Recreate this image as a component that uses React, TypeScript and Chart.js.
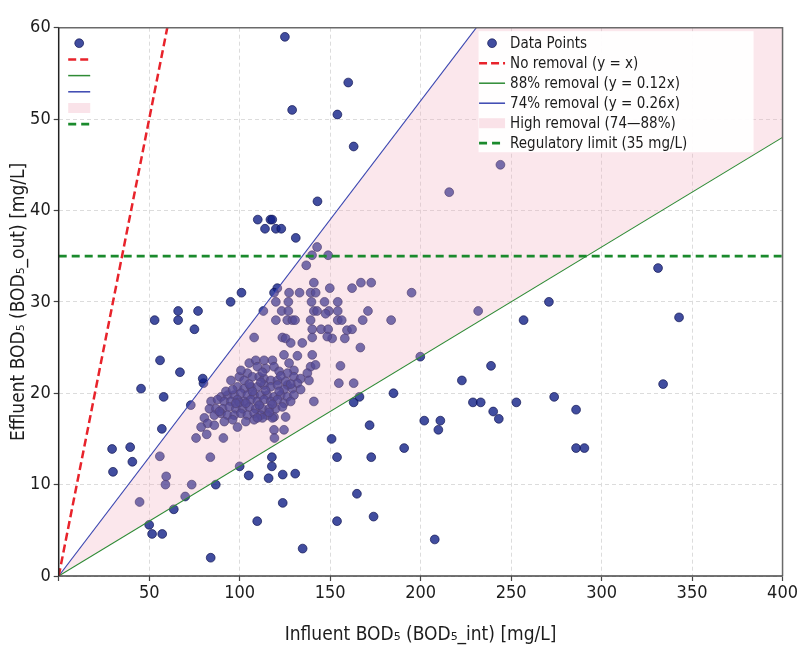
import { useEffect, useRef } from 'react';
import { Chart, registerables } from 'chart.js';

Chart.register(...registerables);

// influent / effluent BOD5 pairs
const influent = [
  125.0, 160.0, 129.0, 154.0, 163.0, 143.0, 110.0, 117.0, 118.0, 114.0, 120.0, 123.0, 131.0,
  101.0, 95.0, 66.0, 77.0, 53.0, 66.0, 75.0, 56.0, 67.0, 80.0, 45.5, 58.0, 57.0, 29.5, 39.5,
  40.7, 30.0, 50.0, 51.6, 57.2, 84.0, 63.6, 86.8, 100.0, 105.0, 116.0, 117.8, 117.8, 123.8,
  130.7, 123.8, 109.7, 134.8, 153.8, 164.8, 174.0, 172.7, 171.8, 153.8, 150.8, 163.0, 166.2,
  185.0, 199.8, 238.9, 222.8, 228.9, 233.2, 252.9, 273.8, 240.1, 243.2, 202.0, 210.9, 209.8,
  190.9, 285.9, 285.9, 290.5, 207.8, 334.0, 342.8, 331.2, 256.9, 270.9, 231.8, 244.1, 215.8,
  195.0, 79.6, 120.8,
  142.8, 140.0, 148.9, 136.8, 141.0, 167.0, 172.7, 162.1, 149.8, 119.0, 127.3, 133.1, 139.2,
  142.0, 120.0, 126.9, 139.7, 146.9, 154.2, 113.1, 123.2, 126.9, 141.0, 142.8, 149.3, 154.2,
  170.9, 120.0, 126.3, 129.1, 130.6, 139.2, 147.5, 154.2, 156.4, 168.0, 183.7, 140.1, 145.0,
  148.9, 159.3, 162.1, 158.1, 151.1, 166.7, 155.7, 154.8, 163.0,
  108.0, 123.6, 125.4, 128.2, 134.6, 140.1, 148.4, 124.5, 131.9, 140.1, 139.2, 141.9, 127.3,
  130.0, 105.3, 108.9, 113.5, 118.1, 104.3, 109.8, 114.4, 119.0, 121.8, 126.4, 130.0, 133.7,
  137.4, 138.3, 131.9, 126.4, 95.2, 99.8, 102.5, 107.1, 110.8, 113.5, 117.2, 120.9, 98.8,
  102.5, 106.2, 109.8, 113.5, 117.2, 120.9, 124.5, 129.1, 133.7, 89.7, 93.3, 97.0, 100.7,
  104.3, 108.0, 111.7, 115.3, 119.0, 122.7, 126.4, 130.0, 84.2, 87.8, 91.5, 95.2, 98.8, 102.5,
  106.2, 109.8, 113.5, 117.2, 120.9, 124.5, 128.2, 83.3, 86.9, 90.6, 94.3, 97.9, 101.6, 105.3,
  108.9, 112.6, 116.3, 119.9, 123.6, 86.0, 89.7, 93.3, 97.0, 100.7, 104.3, 108.0, 111.7, 115.3,
  119.0, 80.5, 82.3, 86.0, 91.5, 96.1, 98.8, 103.4, 108.0, 112.6, 118.1, 125.4, 78.7, 119.0,
  124.5, 141.0,
  92.4, 96.1, 99.8, 103.4, 107.1, 110.8, 114.4, 118.1, 121.8, 125.4, 111.7, 105.3, 97.9,
  116.3, 109.8, 122.7, 128.2, 100.7, 112.6, 88.8,
  44.7, 59.0, 59.4, 55.9, 73.5, 69.9, 83.8, 73.0, 75.9, 81.8, 91.0, 119.2,
];
const effluent = [
  59.0, 54.0, 51.0, 50.5, 47.0, 41.0, 39.0, 39.0, 39.0, 38.0, 38.0, 38.0, 37.0,
  31.0, 30.0, 29.0, 29.0, 28.0, 28.0, 27.0, 23.6, 22.3, 21.1, 20.5, 19.6, 16.1, 13.9, 14.1,
  12.5, 11.4, 5.6, 4.6, 4.6, 2.0, 7.3, 10.0, 12.0, 11.0, 10.7, 12.0, 13.0, 11.1,
  11.2, 8.0, 6.0, 3.0, 6.0, 9.0, 6.5, 13.0, 16.5, 13.0, 15.0, 19.0, 19.6,
  20.0, 24.0, 23.0, 21.4, 19.0, 19.0, 19.0, 19.6, 18.0, 17.2, 17.0, 17.0, 16.0,
  14.0, 18.2, 14.0, 14.0, 4.0, 21.0, 28.3, 33.7, 28.0, 30.0, 29.0, 45.0, 42.0,
  31.0, 21.6, 31.5,
  36.0, 35.1, 35.1, 34.0, 32.1, 32.1, 32.1, 31.5, 31.5, 31.0, 31.0, 31.0, 31.0,
  31.0, 30.0, 30.0, 30.0, 30.0, 30.0, 29.0, 29.0, 29.0, 29.0, 29.0, 29.0, 29.0,
  29.0, 28.0, 28.0, 28.0, 28.0, 28.0, 28.7, 28.0, 28.0, 28.0, 28.0, 27.0, 27.0,
  27.0, 26.9, 27.0, 26.0, 26.0, 25.0, 23.0, 21.1, 21.1,
  26.1, 26.1, 26.0, 25.5, 25.5, 26.1, 26.2, 24.2, 24.1, 24.2, 22.9, 23.1, 23.3,
  22.5, 23.3, 23.6, 23.6, 23.6, 22.2, 22.9, 22.7, 22.9, 22.4, 22.2, 21.8, 21.6,
  22.2, 21.4, 21.1, 20.9, 21.4, 21.8, 21.4, 21.8, 21.8, 21.6, 21.4, 21.4, 20.7,
  20.5, 20.7, 20.7, 20.9, 20.7, 20.9, 20.4, 20.5, 20.4, 19.6, 19.8, 19.8, 20.0,
  19.8, 19.8, 19.8, 19.8, 19.6, 19.8, 19.6, 19.8, 19.1, 19.3, 19.1, 19.1, 19.3, 19.1,
  19.3, 19.1, 19.3, 19.1, 19.3, 18.9, 19.1, 18.3, 18.3, 18.3, 18.5, 18.3, 18.3, 18.5,
  18.3, 18.3, 18.3, 18.3, 18.5, 17.6, 17.8, 17.6, 17.6, 17.8, 17.6, 17.8, 17.6, 17.6,
  17.4, 17.3, 16.7, 16.5, 16.9, 17.1, 16.3, 16.9, 17.1, 17.3, 17.3, 17.4, 16.3, 16.0,
  16.0, 19.1,
  20.2, 20.4, 19.0, 18.9, 20.2, 18.7, 20.3, 18.8, 20.2, 21.3, 21.2, 21.0, 18.9,
  17.9, 17.3, 21.9, 21.0, 22.5, 22.3, 18.0,
  8.1, 10.0, 10.9, 13.1, 10.0, 8.7, 13.0, 18.7, 15.1, 15.5, 15.1, 15.1,
];

// reference lines, given by their end points
const lineX = [0, 400];
const noRemovalY = [0, 400];
const removal88Y = [0, 48];
const removal74Y = [0, 104];
const regulatoryLimit = 35;

const legendLabels = [
  'Data Points',
  'No removal (y = x)',
  '88% removal (y = 0.12x)',
  '74% removal (y = 0.26x)',
  'High removal (74—88%)',
  'Regulatory limit (35 mg/L)',
];

const FONT = '"Liberation Sans Narrow", "DejaVu Sans Condensed", sans-serif';
const POINT_FILL = 'rgba(18,32,135,0.8)';
const POINT_EDGE = 'rgba(15,20,80,0.85)';
const RED = '#e8232b';
const GREEN_THIN = '#2e8b35';
const GREEN_LIMIT = '#1a8a2c';
const BLUE = '#3a46b0';
const PINK = 'rgba(242,175,192,0.3)';

const symbols = ['point', 'redDash', 'greenLine', 'blueLine', 'band', 'greenDash'];

function drawSymbol(ctx: CanvasRenderingContext2D, kind: string, x: number, y: number, w: number) {
  ctx.save();
  ctx.setLineDash([]);
  if (kind === 'point') {
    ctx.beginPath();
    ctx.arc(x + w / 2, y, 4.4, 0, Math.PI * 2);
    ctx.fillStyle = POINT_FILL;
    ctx.fill();
    ctx.lineWidth = 0.8;
    ctx.strokeStyle = POINT_EDGE;
    ctx.stroke();
  } else if (kind === 'band') {
    ctx.fillStyle = 'rgba(242,175,192,0.35)';
    ctx.fillRect(x, y - 5, w, 10);
  } else {
    ctx.beginPath();
    ctx.moveTo(x, y);
    ctx.lineTo(x + w, y);
    if (kind === 'redDash') {
      ctx.strokeStyle = RED;
      ctx.lineWidth = 2.5;
      ctx.setLineDash([8, 4]);
    } else if (kind === 'greenDash') {
      ctx.strokeStyle = GREEN_LIMIT;
      ctx.lineWidth = 2.8;
      ctx.setLineDash([8, 5]);
    } else if (kind === 'greenLine') {
      ctx.strokeStyle = GREEN_THIN;
      ctx.lineWidth = 1.5;
    } else {
      ctx.strokeStyle = BLUE;
      ctx.lineWidth = 1.5;
    }
    ctx.stroke();
  }
  ctx.restore();
}

const legendPlugin = {
  id: 'bodLegends',
  afterDraw(chart: Chart) {
    const { ctx, chartArea } = chart;
    const { left, top, right, bottom } = chartArea;
    ctx.save();

    // plot frame
    ctx.setLineDash([]);
    ctx.lineWidth = 1.5;
    ctx.strokeStyle = '#6a6a6a';
    ctx.beginPath();
    ctx.moveTo(left, top);
    ctx.lineTo(right, top);
    ctx.lineTo(right, bottom);
    ctx.stroke();
    ctx.strokeStyle = '#444';
    ctx.beginPath();
    ctx.moveTo(right, bottom);
    ctx.lineTo(left, bottom);
    ctx.stroke();
    ctx.strokeStyle = '#222';
    ctx.beginPath();
    ctx.moveTo(left, bottom);
    ctx.lineTo(left, top);
    ctx.stroke();

    // symbol-only legend, top left
    symbols.forEach((s, i) => {
      drawSymbol(ctx, s, left + 9.5, top + 15.5 + i * 16.2, 22);
    });

    // full legend, top right
    const bx = right - 304;
    const by = top + 3.5;
    ctx.fillStyle = 'rgba(255,255,255,0.94)';
    ctx.fillRect(bx, by, 275, 121);
    ctx.font = `15px ${FONT}`;
    ctx.textBaseline = 'middle';
    ctx.textAlign = 'left';
    legendLabels.forEach((label, i) => {
      const y = top + 15.5 + i * 20;
      drawSymbol(ctx, symbols[i], bx + 0.5, y, 26);
      ctx.fillStyle = '#1c1c1c';
      ctx.fillText(label, bx + 31.5, y + 0.5);
    });

    ctx.restore();
  },
};

export default function App() {
  const canvasRef = useRef<HTMLCanvasElement>(null);
  const chartRef = useRef<Chart | null>(null);

  useEffect(() => {
    if (!canvasRef.current) return;
    document.body.style.margin = '0';

    if (chartRef.current) {
      chartRef.current.destroy();
    }

    const points = influent.map((x, i) => ({ x, y: effluent[i] }));
    const pairs = (ys: number[]) => lineX.map((x, i) => ({ x, y: ys[i] }));

    chartRef.current = new Chart(canvasRef.current, {
      type: 'scatter',
      data: {
        datasets: [
          {
            label: legendLabels[0],
            data: points,
            backgroundColor: POINT_FILL,
            borderColor: POINT_EDGE,
            borderWidth: 0.8,
            pointRadius: 4.4,
            order: 10,
          },
          {
            label: legendLabels[3],
            data: pairs(removal74Y),
            showLine: true,
            borderColor: BLUE,
            borderWidth: 1.1,
            pointRadius: 0,
            backgroundColor: PINK,
            fill: '+1',
            order: 4,
          },
          {
            label: legendLabels[2],
            data: pairs(removal88Y),
            showLine: true,
            borderColor: GREEN_THIN,
            borderWidth: 1.1,
            pointRadius: 0,
            order: 3,
          },
          {
            label: legendLabels[5],
            data: lineX.map((x) => ({ x, y: regulatoryLimit })),
            showLine: true,
            borderColor: GREEN_LIMIT,
            borderWidth: 2.8,
            borderDash: [8, 5],
            pointRadius: 0,
            order: 2,
          },
          {
            label: legendLabels[1],
            data: pairs(noRemovalY),
            showLine: true,
            borderColor: RED,
            borderWidth: 2.5,
            borderDash: [8, 4],
            pointRadius: 0,
            order: 1,
          },
        ],
      },
      options: {
        animation: false,
        responsive: true,
        maintainAspectRatio: false,
        layout: { padding: { top: 27.7, right: 14.3, left: 0, bottom: 0 } },
        plugins: {
          legend: { display: false },
          tooltip: { enabled: false },
        },
        scales: {
          x: {
            type: 'linear',
            min: 0,
            max: 400,
            afterFit: (axis) => {
              axis.height = 85;
            },
            ticks: {
              stepSize: 50,
              color: '#1c1c1c',
              padding: 2,
              font: { family: FONT, size: 18 },
              callback: (v) => (Number(v) === 0 ? '' : String(v)),
            },
            grid: {
              color: '#dcdcdc',
              lineWidth: 1,
              tickLength: 5,
              tickColor: '#444',
              tickBorderDash: [],
              tickWidth: 1.2,
            },
            border: { display: false, dash: [4, 3] },
            title: {
              display: true,
              text: 'Influent BOD₅ (BOD₅_int) [mg/L]',
              color: '#1c1c1c',
              font: { family: FONT, size: 19 },
              padding: { top: 0, bottom: 15 },
            },
          },
          y: {
            type: 'linear',
            min: 0,
            max: 60,
            afterFit: (axis) => {
              axis.width = 58.7;
            },
            ticks: {
              stepSize: 10,
              color: '#1c1c1c',
              padding: 3,
              font: { family: FONT, size: 18 },
            },
            grid: {
              color: '#dcdcdc',
              lineWidth: 1,
              tickLength: 5,
              tickColor: '#444',
              tickBorderDash: [],
              tickWidth: 1.2,
            },
            border: { display: false, dash: [4, 3] },
            title: {
              display: true,
              text: 'Effluent BOD₅ (BOD₅_out) [mg/L]',
              color: '#1c1c1c',
              font: { family: FONT, size: 19 },
              padding: { top: 8, bottom: 0 },
            },
          },
        },
      },
      plugins: [legendPlugin],
    });

    return () => {
      chartRef.current?.destroy();
      chartRef.current = null;
    };
  }, []);

  return (
    <div style={{ position: 'relative', width: 800, height: 661 }}>
      <canvas ref={canvasRef} role="img" aria-label="Influent vs effluent BOD5" />
    </div>
  );
}
